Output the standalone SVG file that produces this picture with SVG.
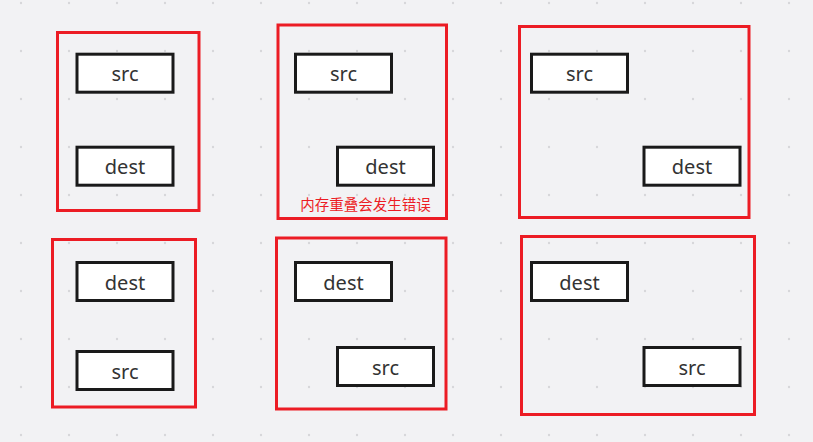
<svg xmlns="http://www.w3.org/2000/svg" width="813" height="442" viewBox="0 0 813 442">
<style>
.frame{fill:none;stroke:#ec1c24;stroke-width:3}
.box{fill:#ffffff;stroke:#1a1a1a;stroke-width:3}
.lbl{font-family:"Noto Sans","Open Sans","DejaVu Sans",sans-serif;font-size:20px;fill:#333333;text-anchor:middle}
.note{font-family:"Noto Sans CJK SC","Noto Sans",sans-serif;font-size:14.5px;fill:#ec1c24;text-anchor:middle}
</style>
<defs>
<pattern id="dots" x="0" y="0" width="48" height="48" patternUnits="userSpaceOnUse">
<circle cx="21" cy="3" r="1.2" fill="#d6d6d9"/>
</pattern>
</defs>
<rect width="813" height="442" fill="#f2f2f4"/>
<rect width="813" height="442" fill="url(#dots)"/>
<g id="group1">
<rect class="frame" x="57.5" y="32.5" width="141.5" height="178"/>
<g id="g1-src"><rect class="box" x="77" y="54.2" width="96" height="38"/><text class="lbl" x="125" y="81.2">src</text></g>
<g id="g1-dest"><rect class="box" x="77" y="147.2" width="96" height="38"/><text class="lbl" x="125" y="174.2">dest</text></g>
</g>
<g id="group2">
<rect class="frame" x="278" y="25" width="168.5" height="193.5"/>
<g id="g2-src"><rect class="box" x="295.5" y="54.2" width="96" height="38"/><text class="lbl" x="343.5" y="81.2">src</text></g>
<g id="g2-dest"><rect class="box" x="337.5" y="147.2" width="96" height="38"/><text class="lbl" x="385.5" y="174.2">dest</text></g>
<text class="note" x="365.5" y="210">内存重叠会发生错误</text>
</g>
<g id="group3">
<rect class="frame" x="519.5" y="26.5" width="229.5" height="191"/>
<g id="g3-src"><rect class="box" x="531.5" y="54.2" width="96" height="38"/><text class="lbl" x="579.5" y="81.2">src</text></g>
<g id="g3-dest"><rect class="box" x="644" y="147.2" width="96" height="38"/><text class="lbl" x="692" y="174.2">dest</text></g>
</g>
<g id="group4">
<rect class="frame" x="52.5" y="239.5" width="143" height="167.5"/>
<g id="g4-dest"><rect class="box" x="77" y="262.5" width="96" height="38"/><text class="lbl" x="125" y="289.5">dest</text></g>
<g id="g4-src"><rect class="box" x="77" y="351.5" width="96" height="38"/><text class="lbl" x="125" y="378.5">src</text></g>
</g>
<g id="group5">
<rect class="frame" x="276.5" y="238" width="169.5" height="171"/>
<g id="g5-dest"><rect class="box" x="295.5" y="262.5" width="96" height="38"/><text class="lbl" x="343.5" y="289.5">dest</text></g>
<g id="g5-src"><rect class="box" x="337.5" y="347.5" width="96" height="38"/><text class="lbl" x="385.5" y="374.5">src</text></g>
</g>
<g id="group6">
<rect class="frame" x="521.5" y="236.5" width="233" height="178"/>
<g id="g6-dest"><rect class="box" x="531.5" y="262.5" width="96" height="38"/><text class="lbl" x="579.5" y="289.5">dest</text></g>
<g id="g6-src"><rect class="box" x="644" y="347.5" width="96" height="38"/><text class="lbl" x="692" y="374.5">src</text></g>
</g>
<g id="connectors"></g>
</svg>
